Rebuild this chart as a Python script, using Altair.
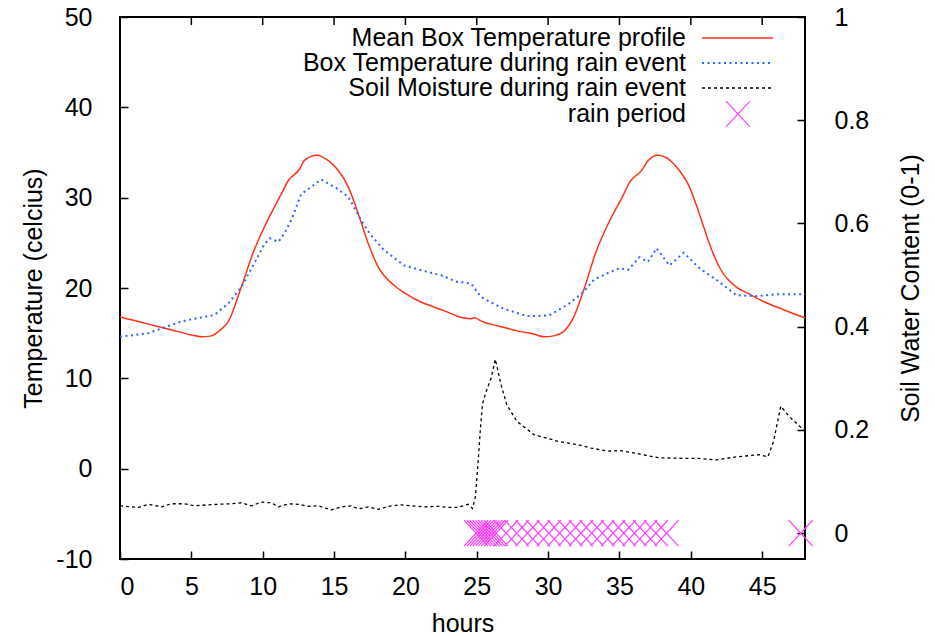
import altair as alt
import pandas as pd

# ---------------- data ----------------
mean_hours = [0, 1, 2, 3, 4, 5, 5.7, 6.4, 6.9, 7.6, 8.5, 9.4, 10.1, 10.7, 11.3, 11.8,
              12.6, 12.9, 13.8, 14.6, 15.3, 16.0, 16.7, 17.4, 18.1, 19.2, 20.0, 21.0,
              22.0, 23.0, 23.8, 24.6, 24.8, 25.5, 26.5, 28.0, 29.0, 29.7, 30.4, 31.1,
              31.8, 32.5, 33.4, 34.3, 35.3, 35.7, 36.6, 37.0, 37.7, 38.4, 39.2, 39.9,
              40.6, 41.3, 42.0, 43.2, 44.0, 45.1, 46.5, 48.0]
mean_temp = [16.8, 16.4, 16.0, 15.6, 15.2, 14.8, 14.6, 14.7, 15.2, 16.3, 20.1, 24.2,
             26.7, 28.6, 30.4, 31.9, 33.2, 34.1, 34.7, 34.1, 33.0, 31.2, 28.2, 24.9,
             22.3, 20.3, 19.4, 18.5, 17.9, 17.3, 16.8, 16.6, 16.7, 16.2, 15.8, 15.2,
             14.9, 14.6, 14.7, 15.2, 16.8, 19.8, 24.2, 27.4, 30.4, 31.7, 33.1, 34.1,
             34.7, 34.3, 33.0, 31.2, 28.2, 24.9, 22.3, 20.1, 19.4, 18.5, 17.6, 16.7]

box_hours = [0, 1.0, 2.0, 3.4, 4.3, 5.2, 6.6, 7.6, 8.5, 9.4, 10.1, 10.5, 11.1, 11.5,
             12.0, 12.7, 13.4, 14.1, 15.2, 16.0, 16.9, 17.5, 18.5, 19.9, 21.5, 22.5,
             23.6, 24.6, 25.3, 26.0, 26.9, 28.5, 29.3, 30.1, 31.5, 32.5, 33.2, 34.1,
             35.0, 35.6, 36.4, 37.0, 37.6, 38.5, 39.5, 40.6, 41.8, 43.2, 44.6, 46.0, 48.0]
box_temp = [14.6, 14.8, 15.0, 15.8, 16.3, 16.6, 17.0, 18.3, 20.1, 22.7, 24.8, 25.5,
            25.1, 26.0, 27.5, 30.4, 31.2, 32.0, 31.0, 30.1, 27.5, 26.0, 24.2, 22.5,
            21.8, 21.4, 20.7, 20.5, 19.0, 18.4, 17.7, 16.9, 16.9, 17.0, 18.3, 19.6,
            20.9, 21.6, 22.2, 22.0, 23.4, 22.9, 24.4, 22.5, 23.9, 22.2, 20.9, 19.2,
            19.1, 19.3, 19.3]

soil_hours = [0, 0.3, 1.3, 2.0, 2.9, 3.6, 4.5, 5.2, 6.2, 6.9, 7.8, 8.5, 9.2, 9.9,
              10.6, 11.1, 11.8, 12.5, 13.2, 13.9, 14.8, 15.5, 16.2, 16.7, 17.4, 18.1,
              18.8, 19.7, 20.4, 21.3, 22.3, 23.0, 23.7, 24.4, 24.7, 24.9, 25.1, 25.25,
              25.4, 25.6, 26.0, 26.3, 26.7, 27.1, 27.8, 29.0, 30.7, 32.0, 33.0, 34.2,
              35.0, 36.1, 37.0, 37.8, 39.6, 40.5, 41.8, 43.2, 44.8, 45.4, 45.8, 46.3,
              46.9, 47.9, 48.0]
soil_water = [0.053, 0.052, 0.050, 0.056, 0.051, 0.057, 0.057, 0.053, 0.055, 0.056,
              0.057, 0.059, 0.053, 0.060, 0.059, 0.051, 0.057, 0.056, 0.052, 0.053,
              0.045, 0.051, 0.053, 0.047, 0.051, 0.046, 0.052, 0.055, 0.053, 0.051,
              0.052, 0.050, 0.050, 0.056, 0.048, 0.070, 0.140, 0.200, 0.250, 0.270,
              0.300, 0.337, 0.288, 0.249, 0.217, 0.191, 0.178, 0.172, 0.165, 0.159,
              0.160, 0.155, 0.150, 0.146, 0.145, 0.145, 0.142, 0.148, 0.152, 0.148,
              0.178, 0.246, 0.226, 0.200, 0.198]

rain_hours = [24.95, 25.15, 25.35, 25.55, 25.75, 25.95, 26.15, 26.35,
              27.05, 27.8, 28.55, 29.3, 30.05, 30.8, 31.55, 32.3, 33.05, 33.8,
              34.55, 35.3, 36.05, 36.8, 37.55, 38.3, 47.7]
rain_level = 0.0

x_ticks = [0, 5, 10, 15, 20, 25, 30, 35, 40, 45]
temp_ticks = [-10, 0, 10, 20, 30, 40, 50]
soil_ticks = [0, 0.2, 0.4, 0.6, 0.8, 1]

legend_labels = ["Mean Box Temperature profile",
                 "Box Temperature during rain event",
                 "Soil Moisture during rain event",
                 "rain period"]

# ---------------- styling ----------------
FONT = "Liberation Sans"
FS = 25
RED = "#ff3318"
BLUE = "#2f62ff"
MAGENTA = "#ff40ff"
X_PATH = "M-1,-1.08L1,1.08M-1,1.08L1,-1.08"

df_mean = pd.DataFrame({"hours": mean_hours, "temp": mean_temp})
df_box = pd.DataFrame({"hours": box_hours, "temp": box_temp})
df_soil = pd.DataFrame({"hours": soil_hours, "water": soil_water})
df_rain = pd.DataFrame({"hours": rain_hours, "water": rain_level})
df_xt = pd.DataFrame({"hours": x_ticks})

x_scale = alt.Scale(domain=[0, 48], nice=False, zero=False)
x_axis = alt.Axis(values=x_ticks, title="hours", tickSize=8, offset=-8, domain=False,
                  labelPadding=15, titlePadding=12, labelExpr="'' + datum.value")
t_scale = alt.Scale(domain=[-10, 50], nice=False, zero=False)
t_axis = alt.Axis(values=temp_ticks, title="Temperature (celcius)", tickSize=8,
                  offset=-8, domain=False, labelPadding=28, titlePadding=9,
                  labelExpr="'' + datum.value")
s_scale = alt.Scale(domain=[-0.05, 1], nice=False, zero=False)
s_axis = alt.Axis(orient="right", values=soil_ticks, title="Soil Water Content (0-1)",
                  tickSize=8, offset=-8, domain=False, labelPadding=29,
                  titlePadding=55, titleAngle=270, labelExpr="'' + datum.value")

X = alt.X("hours:Q", scale=x_scale, axis=x_axis)

mean_line = alt.Chart(df_mean).mark_line(color=RED, strokeWidth=1.5,
                                         interpolate="monotone").encode(
    x=X, y=alt.Y("temp:Q", scale=t_scale, axis=t_axis))
box_line = alt.Chart(df_box).mark_line(color=BLUE, strokeWidth=2,
                                       strokeDash=[2, 3.5]).encode(
    x=X, y=alt.Y("temp:Q", scale=t_scale, axis=t_axis))
top_ticks = alt.Chart(df_xt).mark_rule(color="black", strokeWidth=1.5).encode(
    x=X, y=alt.value(0), y2=alt.value(8))

left = alt.layer(mean_line, box_line, top_ticks)

soil_line = alt.Chart(df_soil).mark_line(color="black", strokeWidth=1.3,
                                         strokeDash=[3, 3]).encode(
    x=X, y=alt.Y("water:Q", scale=s_scale, axis=s_axis))
rain_pts = alt.Chart(df_rain).mark_point(shape=X_PATH, size=576, filled=False,
                                         color=MAGENTA, strokeWidth=1.2,
                                         opacity=1).encode(
    x=X, y=alt.Y("water:Q", scale=s_scale, axis=s_axis))

right = alt.layer(soil_line, rain_pts)

# ---------------- legend (top-right, text left of sample) ----------------
legend_y = [21, 46, 71, 97]
legend_layers = []
for i, lab in enumerate(legend_labels):
    d = pd.DataFrame({"label": [lab]})
    legend_layers.append(
        alt.Chart(d).mark_text(align="right", baseline="middle", font=FONT,
                               fontSize=FS, color="black").encode(
            x=alt.value(566), y=alt.value(legend_y[i]), text="label:N"))

legend_layers.append(alt.Chart(pd.DataFrame({"k": [0]})).mark_rule(
    color=RED, strokeWidth=1.5).encode(x=alt.value(582), x2=alt.value(653),
                                       y=alt.value(legend_y[0])))
legend_layers.append(alt.Chart(pd.DataFrame({"k": [0]})).mark_rule(
    color=BLUE, strokeWidth=2, strokeDash=[2, 3.5]).encode(
    x=alt.value(582), x2=alt.value(653), y=alt.value(legend_y[1])))
legend_layers.append(alt.Chart(pd.DataFrame({"k": [0]})).mark_rule(
    color="black", strokeWidth=1.3, strokeDash=[3, 3]).encode(
    x=alt.value(582), x2=alt.value(653), y=alt.value(legend_y[2])))
legend_layers.append(alt.Chart(pd.DataFrame({"k": [0]})).mark_point(
    shape=X_PATH, size=576, filled=False, color=MAGENTA, strokeWidth=1.2,
    opacity=1).encode(x=alt.value(618), y=alt.value(legend_y[3])))

chart = alt.layer(left, right, *legend_layers).resolve_scale(
    y="independent"
).properties(
    width=685, height=542,
    autosize=alt.AutoSizeParams(type="none"),
    padding={"left": 112, "top": 9, "right": 120, "bottom": 78},
    background="white",
).configure_view(
    stroke="black", strokeWidth=2
).configure_axis(
    labelFont=FONT, labelFontSize=FS, titleFont=FONT, titleFontSize=FS,
    titleFontWeight="normal", labelColor="black", titleColor="black",
    tickColor="black", tickWidth=1.5, grid=False
)

chart.save("out.html", embed_options={"renderer": "svg", "actions": False})
